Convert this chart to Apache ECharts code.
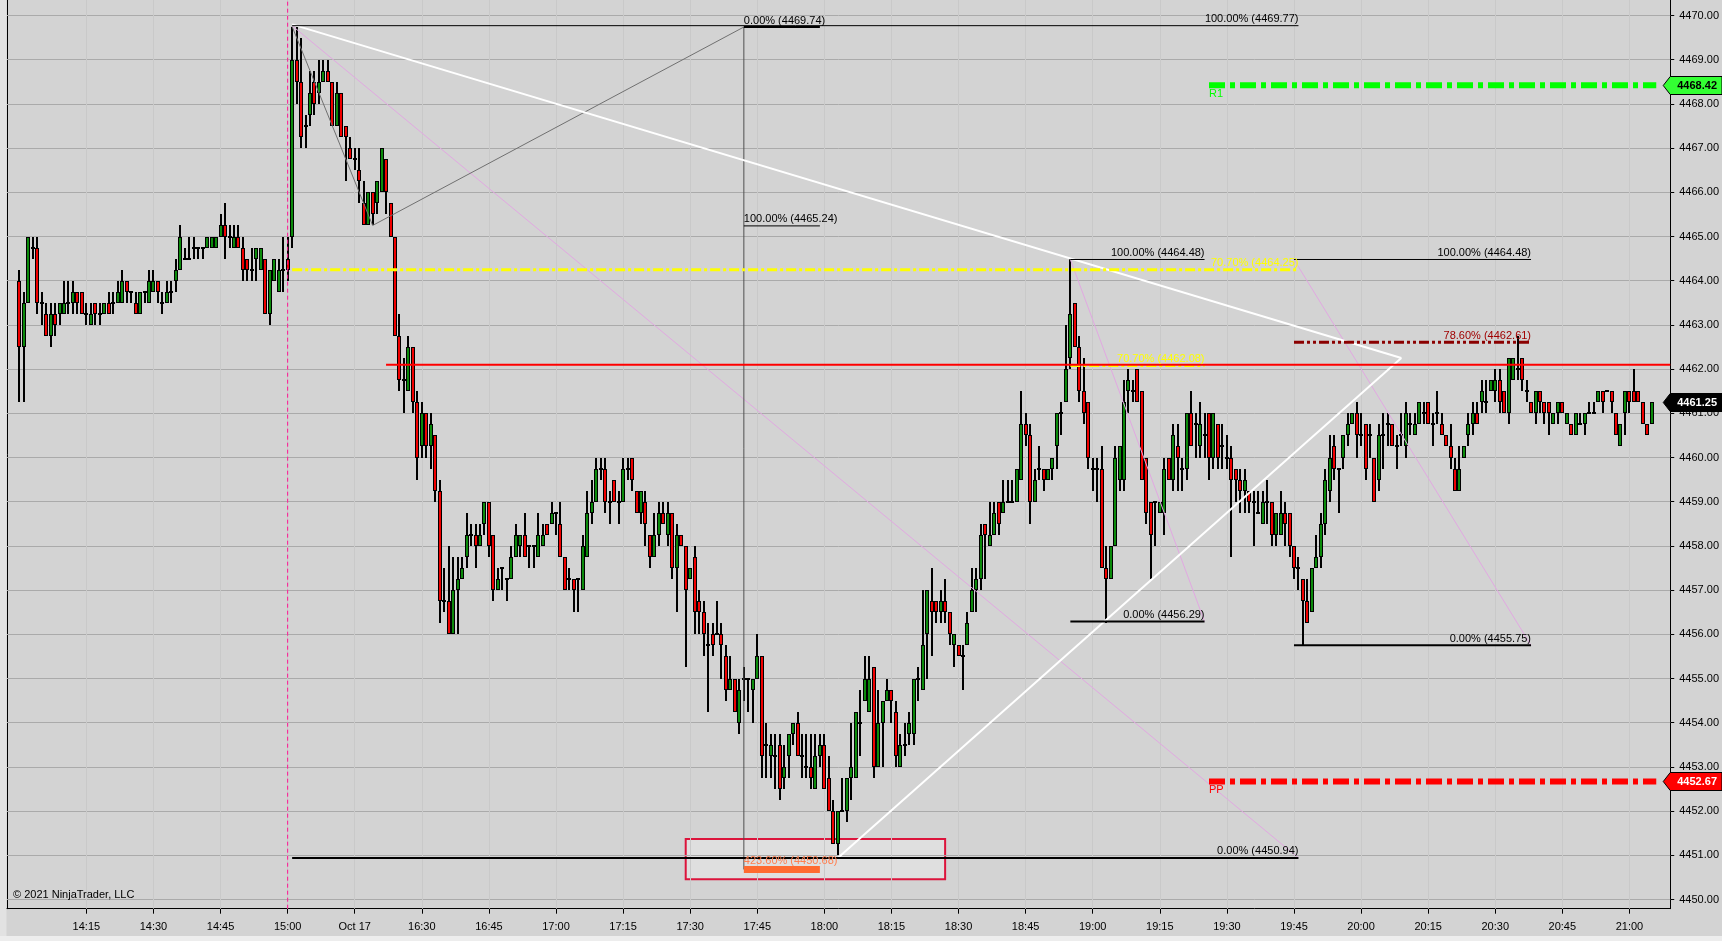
<!DOCTYPE html>
<html><head><meta charset="utf-8">
<script src="https://cdn.jsdelivr.net/npm/echarts@6/dist/echarts.min.js"></script>
<style>html,body{margin:0;padding:0;background:#d3d3d3;}#c{width:1722px;height:941px;}</style>
</head><body><div id="c"></div>
<script>
// ---------- DATA ----------
// Friday 1-minute bars 14:00 .. 15:00  [open, high, low, close]
const fridayBars = [
[4464,4464.25,4461.25,4462.5],[4462.5,4463.75,4461.25,4463.5],[4463.5,4465,4463.5,4465],[4464.75,4465,4464.5,4464.75],
[4464.75,4465,4463.25,4463.5],[4463.5,4463.75,4463,4463.5],[4463.25,4463.5,4462.75,4462.75],[4462.75,4463.5,4462.5,4463.25],
[4463.25,4463.5,4462.75,4463],[4463.25,4463.5,4463,4463.5],[4463.25,4464,4463.25,4463.5],[4463.5,4464,4463.25,4463.5],
[4463.5,4464,4463.25,4463.75],[4463.75,4463.75,4463.25,4463.5],[4463.75,4463.75,4463.25,4463.25],[4463.25,4463.5,4463,4463.25],
[4463,4463.5,4463,4463.25],[4463.5,4463.5,4463,4463.25],[4463.25,4463.5,4463,4463.25],[4463.25,4463.5,4463.25,4463.5],
[4463.5,4463.75,4463.25,4463.25],[4463.5,4463.75,4463.25,4463.5],[4463.5,4464,4463.5,4463.75],[4463.5,4464.25,4463.5,4464],
[4464,4464,4463.5,4463.75],[4463.75,4463.75,4463.5,4463.75],[4463.5,4463.75,4463.25,4463.25],[4463.25,4463.75,4463.25,4463.75],
[4463.75,4463.75,4463.5,4463.75],[4463.5,4464.25,4463.5,4464],[4463.75,4464.25,4463.75,4464],[4464,4464,4463.5,4463.75],
[4463.5,4463.75,4463.25,4463.5],[4463.5,4464,4463.5,4463.75],[4463.75,4464,4463.5,4463.75],[4464,4464.5,4463.75,4464.25],
[4464.25,4465.25,4464.25,4465],[4464.5,4464.75,4464.5,4464.5],[4464.5,4465,4464.5,4464.5],[4464.75,4465,4464.5,4464.75],
[4464.75,4464.75,4464.5,4464.75],[4464.75,4464.75,4464.5,4464.75],[4464.75,4465,4464.75,4465],[4464.75,4465,4464.75,4465],
[4464.75,4465,4464.75,4465],[4465,4465.5,4465,4465.25],[4465.25,4465.75,4464.5,4465],[4465,4465.25,4464.75,4465],
[4464.75,4465.25,4464.75,4465],[4465,4465.25,4464.75,4464.75],[4464.75,4465,4464,4464.25],[4464.5,4464.5,4464,4464.25],
[4464.25,4464.75,4464,4464.25],[4464.5,4464.75,4464,4464.75],[4464.25,4464.75,4464.25,4464.75],[4464.5,4464.5,4463.25,4463.25],
[4463.25,4464.25,4463,4464.25],[4464,4464.5,4464,4464.5],[4463.75,4464.5,4463.75,4464.25],[4464.25,4465,4463.75,4464.25],
[4464.5,4465,4464,4464.25]
];
// Sunday Oct 17 1-minute bars 16:01 .. 21:05  [open, high, low, close]
const sundayBars = [
[4465,4469.75,4464.75,4469],[4469,4469.75,4468,4468.5],[4468.5,4469.5,4467,4467.25],[4467.5,4467.75,4467,4467.5],
[4467.75,4468.75,4467.5,4468.25],[4468.5,4468.75,4467.75,4468],[4468.25,4469,4468,4468.5],[4468.5,4469,4468.5,4468.75],
[4468.75,4469,4468.5,4468.5],[4468.5,4468.5,4467.5,4467.5],[4467.5,4468.5,4467.5,4468.25],[4468.25,4468.25,4467.25,4467.25],
[4467.5,4467.5,4466.25,4467.25],[4467,4467.25,4466.75,4466.75],[4466.75,4467,4466.5,4466.75],[4466.5,4467,4465.75,4466.25],
[4465.75,4466.25,4465.25,4465.25],[4465.25,4466,4465.25,4466],[4466,4466,4465.25,4465.5],[4465.75,4466.25,4465.5,4466.25],
[4466,4467,4466,4467],[4466.75,4466.75,4465.5,4466],[4465.75,4465.75,4465,4465],[4465,4465,4462.75,4462.75],
[4462.75,4463.25,4461.5,4461.75],[4461.75,4462.25,4461,4461.75],[4461.5,4462.75,4461.5,4462.5],[4462.5,4462.5,4461,4461.25],
[4461.25,4461.5,4459.5,4460],[4460.25,4461.25,4460,4461],[4461,4461,4460,4460.25],[4460.25,4461,4459.75,4460.75],
[4460.5,4460.5,4459,4459.25],[4459.25,4459.5,4456.25,4456.75],[4456.75,4457.5,4456.5,4456.75],[4456.75,4458,4456,4456],
[4456,4457.75,4456,4457],[4457,4457.75,4456,4457.25],[4457.25,4457.75,4457.25,4457.5],[4457.75,4458.75,4457.5,4458.25],
[4458.25,4458.5,4458,4458.25],[4458.25,4458.5,4457.5,4458],[4458,4458.5,4458,4458.25],[4458.5,4459,4458.25,4459],
[4459,4459,4457.75,4458],[4458.25,4458.25,4456.75,4457],[4457,4457.5,4457,4457.25],[4457.5,4457.5,4457,4457.5],
[4457.25,4457.25,4456.75,4457.25],[4457.25,4458,4457.25,4457.75],[4457.75,4458.5,4457.75,4458.25],[4458,4458.25,4457.75,4458.25],
[4458.25,4458.75,4457.75,4457.75],[4458,4458,4457.5,4458],[4458,4458,4457.5,4458],[4457.75,4458.75,4457.75,4458.25],
[4458,4458.5,4458,4458.25],[4458.5,4458.5,4458.25,4458.25],[4458.5,4459,4458.5,4458.75],[4458.75,4458.75,4458.25,4458.75],
[4458.5,4459,4457.75,4457.75],[4457.75,4457.75,4457,4457],[4457.25,4457.5,4457,4457.25],[4457.25,4457.25,4456.5,4457],
[4457.25,4457.25,4456.5,4457.25],[4457,4458.25,4457,4458],[4457.75,4459.25,4457.75,4458.75],[4458.75,4459.5,4458.5,4459],
[4459,4460,4459,4459.75],[4459.75,4460,4459.5,4459.75],[4459.75,4460,4458.75,4459],[4459,4459.25,4458.5,4459],
[4459.5,4459.5,4459,4459],[4459,4459.25,4458.5,4459],[4459,4460,4459,4459.75],[4459.75,4460,4459.5,4459.75],
[4460,4460,4459.25,4459.5],[4459.25,4459.25,4458.75,4458.75],[4458.75,4459.25,4458.5,4459.25],[4459,4459.25,4458,4458.5],
[4458.25,4458.25,4457.5,4457.75],[4457.75,4458.75,4457.75,4458.25],[4458.25,4459,4458,4458.75],[4458.75,4459,4458.5,4458.5],
[4458.25,4459,4458,4458.75],[4458.75,4458.75,4457.25,4457.5],[4457.5,4458.5,4456.5,4458.25],[4458.25,4458.25,4458,4458],
[4458,4458,4455.25,4457],[4457.25,4457.5,4457.25,4457.5],[4457.75,4458,4456,4456.5],[4456.75,4457,4456,4456.5],
[4456.5,4456.75,4455.5,4456],[4455.75,4456.25,4454.25,4455.75],[4456,4456.25,4455.5,4455.75],[4456,4456.75,4456,4456],
[4456,4456.25,4455,4455.75],[4455.5,4455.75,4454.5,4454.75],[4454.75,4455.5,4454.75,4455],[4455,4455,4454.25,4454.25],
[4454,4455,4453.75,4454.75],[4455,4455.25,4454.5,4455],[4455,4455,4454.25,4455],[4454.75,4455,4454,4455],
[4455,4456,4455,4455.5],[4455.5,4455.5,4452.75,4453.25],[4453.5,4454,4452.75,4453.5],[4453.25,4453.75,4452.75,4453.5],
[4453.25,4453.75,4452.5,4453.25],[4453.5,4453.75,4452.25,4452.5],[4452.75,4453.5,4452.5,4453],[4453.25,4453.75,4452.75,4453.75],
[4453.75,4454,4453.5,4454],[4454,4454.25,4453.25,4453.25],[4453.25,4453.75,4452.75,4453.25],[4453,4453.75,4452.75,4453],
[4453,4453.75,4452.5,4452.75],[4452.5,4453.75,4452.5,4453.25],[4453.25,4453.75,4453,4453.5],[4453.5,4453.75,4452.5,4452.5],
[4452.75,4453.25,4452,4452],[4452,4452.25,4451.25,4451.25],[4451.25,4452,4451,4452],[4452,4452.75,4452,4452],
[4452,4452.75,4451.75,4452.75],[4452.75,4454,4452.25,4453],[4452.75,4454.25,4452.75,4454.25],[4454,4454.75,4453.25,4454],
[4454.5,4455.5,4454.5,4455],[4454.25,4455.5,4454.25,4455],[4455.25,4455.25,4452.75,4453],[4453,4454.75,4453,4454],
[4454,4454.5,4453,4454.5],[4454.5,4455,4454.5,4454.75],[4454.75,4454.75,4454,4454.5],[4454.25,4454.5,4453,4453.25],
[4453,4453.75,4453,4453.5],[4453.5,4454,4453.25,4453.5],[4453.75,4454.25,4453.5,4454],[4453.75,4455,4453.5,4455],
[4455,4455.25,4454.5,4455],[4454.75,4457,4454.75,4455.75],[4456,4457,4455,4457],[4456.75,4457.5,4455.5,4456.5],
[4456.75,4456.75,4456.25,4456.5],[4456.5,4457,4456.25,4456.75],[4456.75,4457.25,4456.25,4456.5],[4456.5,4456.5,4455.75,4456],
[4455.75,4456,4455.25,4456],[4455.75,4455.75,4455.5,4455.5],[4455.5,4455.75,4454.75,4455.5],[4455.75,4456.5,4455.75,4456.25],
[4456.5,4457.5,4456.5,4457],[4457,4457.5,4456.5,4457.25],[4457.25,4458.5,4457,4458.25],[4458.5,4458.5,4457.25,4458.25],
[4458,4459,4458,4458.25],[4458.25,4459,4458.25,4458.75],[4459,4459,4458.25,4458.5],[4458.75,4459.5,4458.75,4459],
[4459,4459.5,4459,4459],[4459,4459.5,4459,4459],[4459,4459.75,4459,4459.75],[4459.5,4461.5,4459.5,4460.75],
[4460.75,4461,4460.25,4460.5],[4460.5,4460.75,4458.5,4459],[4459,4459.75,4459,4459.5],[4459.75,4460.25,4459.5,4459.75],
[4459.75,4459.75,4459.25,4459.5],[4459.5,4459.75,4459.5,4459.75],[4459.75,4460,4459.5,4460],[4460.25,4461,4459.75,4461],
[4461,4461.25,4460.5,4461],[4461.25,4463,4461.25,4462],[4462.25,4464.5,4462,4463.25],[4463.5,4463.5,4462.5,4462.5],
[4462.5,4462.75,4461.25,4461.5],[4461.5,4462.25,4460.75,4461],[4461.25,4461.25,4459.75,4460],[4459.75,4460,4459.25,4459.75],
[4459.75,4460,4459,4459.75],[4459.75,4460.25,4457.5,4457.5],[4457.5,4458,4456.25,4457.25],[4457.25,4458,4457.25,4458],
[4458,4460.25,4458,4460],[4459.5,4460.25,4459.25,4460.25],[4459.5,4461.75,4459.25,4461.25],[4461.5,4462,4461,4461.75],
[4461.5,4461.75,4461.25,4461.5],[4462,4462,4461.25,4461.25],[4461.5,4461.5,4459.5,4459.5],[4460,4460,4458.5,4458.75],
[4459,4459,4457.25,4458.25],[4459,4459,4458,4459],[4458.75,4459,4458.75,4459],[4458.75,4460,4458.25,4459.75],
[4460,4460,4459.5,4459.5],[4459.5,4460.75,4459.25,4460.5],[4460.25,4460.75,4459.25,4460],[4459.75,4460,4459.25,4459.75],
[4459.75,4461,4459.5,4461],[4461,4461.5,4460.25,4460.25],[4460.75,4461,4460,4460.75],[4460.25,4461.25,4460,4460.75],
[4460.5,4461,4460,4460.5],[4461,4461,4459.5,4460],[4460,4461,4459.75,4461],[4460.75,4460.75,4459.75,4460],
[4460.25,4460.75,4459.75,4460.25],[4460,4460.5,4459.75,4460],[4460,4460.25,4457.75,4459.5],[4459.75,4459.75,4459,4459.5],
[4459.5,4459.75,4458.75,4459.25],[4459.25,4459.75,4458.75,4459.5],[4459.25,4459.25,4458.75,4459],[4459,4459.25,4458,4459],
[4458.75,4459.25,4458.75,4458.75],[4458.5,4459.25,4458.5,4459],[4459,4459.5,4458.5,4459],[4459,4459,4458,4458.25],
[4458.25,4458.75,4458,4458.75],[4458.25,4459.25,4458.25,4458.75],[4458.75,4459,4458,4458.5],[4458.75,4458.75,4457.75,4458],
[4458,4458,4457.25,4457.5],[4457.5,4457.75,4457,4457.5],[4457.25,4457.25,4455.75,4456.75],[4456.75,4457.25,4456.25,4456.25],
[4456.5,4457.5,4456.5,4457.5],[4457.5,4458.25,4457.5,4457.75],[4457.75,4458.75,4457.5,4458.5],[4458.5,4459.75,4458.25,4459.5],
[4459.25,4460.5,4459,4460],[4460.25,4460.5,4459.5,4459.75],[4459.75,4459.75,4458.75,4459.75],[4460,4460.5,4459.75,4460.5],
[4460.5,4461,4460.25,4460.75],[4460.75,4461,4460.75,4461],[4461,4461.25,4460,4460.5],[4460.5,4461,4460.25,4460.5],
[4460.75,4460.75,4459.5,4459.75],[4460.5,4460.75,4460,4460.5],[4460,4460,4459,4459],[4459.5,4460.75,4459.25,4460.5],
[4460.5,4461,4459.75,4460.5],[4460.75,4461,4460.25,4460.75],[4460.75,4460.75,4460.25,4460.25],[4460.25,4460.5,4459.75,4460.25],
[4460.5,4461,4460.25,4460.5],[4460.25,4461.25,4460,4461],[4460.75,4461,4460.5,4460.75],[4460.5,4461,4460.5,4460.75],
[4460.75,4461.25,4460.75,4461.25],[4461,4461.25,4460.75,4461],[4461.25,4461.25,4460.75,4460.75],[4460.75,4461,4460.25,4460.75],
[4461,4461.5,4460.75,4461],[4460.75,4461,4460.5,4460.5],[4460.5,4460.5,4460.25,4460.25],[4460.25,4460.75,4459.75,4460],
[4459.75,4460,4459.25,4459.25],[4459.25,4460.25,4459.25,4459.75],[4460,4460.25,4460,4460.25],[4460.5,4461,4460.25,4460.75],
[4460.75,4461.25,4460.5,4461],[4461,4461.25,4460.75,4460.75],[4461.25,4461.75,4461,4461.5],[4461.25,4461.75,4461,4461.25],
[4461.5,4461.75,4461.5,4461.75],[4461.5,4462,4461.25,4461.75],[4461.75,4462,4461,4461.25],[4461.5,4461.5,4461,4461],
[4461,4462.25,4460.75,4462.25],[4461.75,4462.25,4461.75,4462.25],[4462,4462.75,4461.75,4462],[4462.25,4462.25,4461.5,4461.75],
[4461.5,4461.75,4461.25,4461.5],[4461.25,4461.25,4461,4461],[4461,4461.5,4460.75,4461.5],[4461.5,4461.5,4461,4461.25],
[4461.25,4461.25,4460.75,4461],[4461.25,4461.25,4460.5,4461],[4460.75,4461,4460.75,4461],[4461,4461.25,4460.75,4461.25],
[4461.25,4461.25,4461,4461],[4460.75,4461,4460.75,4461],[4460.75,4460.75,4460.5,4460.5],[4460.5,4461,4460.5,4461],
[4460.75,4461,4460.75,4460.75],[4460.75,4461,4460.5,4461],[4461,4461.25,4461,4461],[4461,4461.25,4461,4461],
[4461.25,4461.5,4461.25,4461.5],[4461.5,4461.5,4461,4461.25],[4461.5,4461.5,4461.5,4461.5],[4461.5,4461.5,4461,4461.25],
[4461,4461,4460.5,4460.5],[4460.25,4460.75,4460.25,4460.75],[4461,4461.5,4460.5,4461.5],[4461.5,4461.5,4461,4461.25],
[4461.5,4462,4461.25,4461.25],[4461.5,4461.5,4461.25,4461.25],[4461.25,4461.25,4460.75,4460.75],[4460.75,4460.75,4460.5,4460.5],
[4460.75,4461.25,4460.75,4461.25]
];
const sundayFirstIndex = 61;                 // bar slot of 16:01 (right after the 15:00 close)
const tickIndices = [15,30,45,60,75,90,105,120,135,150,165,180,195,210,225,240,255,270,285,300,315,330,345,360];
const tickLabels = ['14:15','14:30','14:45','15:00','Oct 17','16:30','16:45','17:00','17:15','17:30','17:45','18:00',
  '18:15','18:30','18:45','19:00','19:15','19:30','19:45','20:00','20:15','20:30','20:45','21:00'];
const priceTicks = [4450,4451,4452,4453,4454,4455,4456,4457,4458,4459,4460,4461,4462,4463,4464,4465,4466,4467,4468,4469,4470];
const sessionBreakSlot = 60;
// Fibonacci retracements: [startSlot, endSlot, startPrice, endPrice], levels [percent, price]
const fibRetracements = [
  {anchor: [61, 286, 4469.77, 4450.94], levels: [[100, 4469.77], [70.7, 4464.25], [0, 4450.94]]},
  {anchor: [235, 265, 4464.48, 4456.29], levels: [[100, 4464.48], [70.7, 4462.08], [0, 4456.29]]},
  {anchor: [285, 338, 4464.48, 4455.75], levels: [[100, 4464.48], [78.6, 4462.61], [0, 4455.75]]}
];
const fibExtPoints = [[61, 4469.75], [79, 4465.25], [162, 4469.74]];
const fibExtEndSlot = 179;
const fibExtLevels = [[0, 4469.74], [100, 4465.24], [423.6, 4450.68]];
const trendLines = [[[61, 4469.8], [309, 4462.25]], [[183, 4450.94], [309, 4462.25]]];
const rayStart = [82, 4462.1];
const pivots = [['R1', 4468.42, 266, 366], ['PP', 4452.67, 266, 366]];
const zoneBox = [[149, 4451.37], [207, 4450.46]];
const lastPrice = 4461.25;

// ---------- CHART ----------
const FONT = '"Liberation Sans", Arial, sans-serif';
const UP = '#0b8a0b', DOWN = '#f00000';
const X_MIN = -2.75, X_MAX = 369.125, Y_MIN = 4449.792, Y_MAX = 4470.351;
const bars = [];
fridayBars.forEach((b, k) => bars.push([k, b[0], b[1], b[2], b[3]]));
sundayBars.forEach((b, k) => bars.push([sundayFirstIndex + k, b[0], b[1], b[2], b[3]]));

function candleItem(params, api) {
  const x = api.value(0), o = api.value(1), h = api.value(2), l = api.value(3), c = api.value(4);
  const pH = api.coord([x, h]), pL = api.coord([x, l]), pO = api.coord([x, o]), pC = api.coord([x, c]);
  const cx = Math.round(pH[0]);
  const yH = Math.round(pH[1]), yL = Math.round(pL[1]);
  const ch = [{type: 'rect', shape: {x: cx - 1, y: yH, width: 2, height: Math.max(1, yL - yH)}, style: {fill: '#000'}}];
  const top = Math.round(Math.min(pO[1], pC[1])), bot = Math.round(Math.max(pO[1], pC[1]));
  if (o === c) {
    ch.push({type: 'rect', shape: {x: cx - 2, y: top - 1, width: 4, height: 2}, style: {fill: '#000'}});
  } else {
    ch.push({type: 'rect', shape: {x: cx - 2, y: top, width: 4, height: bot - top}, style: {fill: '#000'}});
    if (bot - top > 2) ch.push({type: 'rect', shape: {x: cx - 1, y: top + 1, width: 2, height: bot - top - 2}, style: {fill: c > o ? UP : DOWN}});
  }
  return {type: 'group', children: ch};
}

const series = [];
function seg(points, color, width, type, z) {
  series.push({type: 'line', data: points, symbol: 'none', silent: true, animation: false, z: z || 10,
    lineStyle: {color: color, width: width, type: type || 'solid', cap: 'butt'}});
}
// gridlines
series.push({type: 'line', data: [], silent: true, z: 1, markLine: {silent: true, animation: false, symbol: ['none', 'none'],
  label: {show: false}, lineStyle: {color: '#aaaaaa', width: 1, type: 'solid'}, data: priceTicks.map(v => ({yAxis: v}))}});
series.push({type: 'line', data: [], silent: true, z: 1, markLine: {silent: true, animation: false, symbol: ['none', 'none'],
  label: {show: false}, lineStyle: {color: '#c9c9c9', width: 1, type: 'solid'}, data: tickIndices.map(v => ({xAxis: v}))}});
// rectangle zone
series.push({type: 'line', data: [], silent: true, z: 3, markArea: {silent: true, animation: false,
  itemStyle: {color: 'rgba(255,255,255,0.28)', borderColor: '#dc143c', borderWidth: 2},
  data: [[{coord: zoneBox[0]}, {coord: zoneBox[1]}]]}});
// candles
series.push({type: 'custom', data: bars, renderItem: candleItem, z: 5, silent: true, animation: false});

const texts = [];
const fmt = (p, v) => p.toFixed(2) + '% (' + v.toFixed(2) + ')';
// session break
seg([[sessionBreakSlot, Y_MIN], [sessionBreakSlot, Y_MAX]], '#ff1493', 1, [4, 3], 6);
// white trend lines
trendLines.forEach(t => seg(t, '#ffffff', 2, 'solid', 8));
// fib retracements
fibRetracements.forEach(f => {
  const [s, e, p0, p1] = f.anchor;
  seg([[s, p0], [e, p1]], '#e2a8e2', 1, 'solid', 7);
  f.levels.forEach(([pct, price]) => {
    let color = '#000', width = 1, type = 'solid', tcol = '#000';
    if (pct === 0) width = 2;
    if (pct === 70.7) { color = '#ffff00'; width = 3; type = [10, 3, 3, 3]; tcol = '#ffff00'; }
    if (pct === 78.6) { color = '#8b0000'; width = 3; type = [10, 3, 3, 3, 3, 3]; tcol = '#a00000'; }
    seg([[s, price], [e, price]], color, width, type, 9);
    texts.push({x: e, y: price, text: fmt(pct, price), color: tcol, align: 'right', va: 'bottom', dy: -1});
  });
});
// fib extension
seg(fibExtPoints, '#707070', 1, 'solid', 7);
const extX = fibExtPoints[2][0];
seg([[extX, fibExtLevels[0][1]], [extX, fibExtLevels[2][1]]], '#505050', 1, 'solid', 7);
fibExtLevels.forEach(([pct, price]) => {
  if (pct === 423.6) {
    seg([[extX, price], [fibExtEndSlot, price]], '#ff6a30', 7, 'solid', 9);
    texts.push({x: extX, y: price, text: fmt(pct, price), color: '#ff7f50', align: 'left', va: 'bottom', dy: -3});
  } else {
    seg([[extX, price], [fibExtEndSlot, price]], '#000', pct === 0 ? 2 : 1, 'solid', 9);
    texts.push({x: extX, y: price, text: fmt(pct, price), color: '#000', align: 'left', va: 'bottom', dy: -1});
  }
});
// red horizontal ray
seg([rayStart, [X_MAX, rayStart[1]]], '#ff0000', 2, 'solid', 9);
// pivots
pivots.forEach(([name, price, s, e]) => {
  const col = name === 'R1' ? '#00ff00' : '#ff0000';
  seg([[s, price], [e, price]], col, 6, [16, 5, 5, 5], 9);
  texts.push({x: s, y: price, text: name, color: col, align: 'left', va: 'top', dy: 3});
});

series.push({type: 'custom', silent: true, animation: false, z: 20, clip: false, data: texts.map(t => [t.x, t.y]),
  renderItem: (params, api) => {
    const t = texts[params.dataIndex];
    const p = api.coord([t.x, t.y]);
    return {type: 'text', x: p[0], y: p[1] + (t.dy || 0),
      style: {text: t.text, fill: t.color, font: '11px ' + FONT, align: t.align, verticalAlign: t.va,
        textAlign: t.align, textVerticalAlign: t.va}};
  }});

// price tags at the right axis
const priceTags = [[pivots[0][1], '#33ff33', '#000'], [pivots[1][1], '#ff0000', '#fff'], [lastPrice, '#000', '#fff']];
series.push({type: 'custom', silent: true, animation: false, z: 40, clip: false, data: priceTags.map(t => [0, t[0]]),
  renderItem: (params, api) => {
    const t = priceTags[params.dataIndex];
    const cs = params.coordSys;
    const right = cs.x + cs.width;
    const y = Math.round(api.coord([0, t[0]])[1]) + 0.5;
    const W = api.getWidth();
    return {type: 'group', children: [
      {type: 'polygon', shape: {points: [[right - 7, y], [right, y - 9], [W, y - 9], [W, y + 9], [right, y + 9]]},
        style: {fill: t[1], stroke: '#000', lineWidth: 1}},
      {type: 'text', x: right + 7, y: y, style: {text: t[0].toFixed(2), fill: t[2], font: 'bold 11px ' + FONT,
        align: 'left', verticalAlign: 'middle', textAlign: 'left', textVerticalAlign: 'middle'}}
    ]};
  }});

const chart = echarts.init(document.getElementById('c'), null, {renderer: 'canvas'});
chart.setOption({
  animation: false,
  backgroundColor: '#d3d3d3',
  grid: {left: 7, right: 49, top: 0, bottom: 32.3},
  xAxis: {type: 'value', min: X_MIN, max: X_MAX,
    axisLine: {show: true, onZero: false, lineStyle: {color: '#000', width: 1}},
    axisTick: {show: true, customValues: tickIndices, length: 5, lineStyle: {color: '#000'}},
    axisLabel: {show: true, customValues: tickIndices, margin: 13, color: '#000', fontSize: 11, fontFamily: FONT,
      formatter: v => { const k = tickIndices.indexOf(Math.round(v)); return k >= 0 ? tickLabels[k] : ''; }},
    splitLine: {show: false}},
  yAxis: [
    {type: 'value', position: 'right', min: Y_MIN, max: Y_MAX, scale: true,
      axisLine: {show: true, onZero: false, lineStyle: {color: '#000', width: 1}},
      axisTick: {show: true, customValues: priceTicks, length: 4, lineStyle: {color: '#000'}},
      axisLabel: {show: true, customValues: priceTicks, margin: 9, color: '#000', fontSize: 11, fontFamily: FONT,
        formatter: v => v.toFixed(2)},
      splitLine: {show: false}},
    {type: 'value', position: 'left', min: Y_MIN, max: Y_MAX, scale: true,
      axisLine: {show: true, onZero: false, lineStyle: {color: '#000', width: 1}},
      axisTick: {show: false}, axisLabel: {show: false}, splitLine: {show: false}}
  ],
  graphic: [
    {type: 'rect', left: 0, top: 0, shape: {width: 6.5, height: 941}, style: {fill: '#e2e2e2'}, z: -1, silent: true},
    {type: 'rect', left: 0, top: 936, shape: {width: 1722, height: 5}, style: {fill: '#ededed'}, z: -1, silent: true},
    {type: 'text', left: 13, top: 889, style: {text: '\u00a9 2021 NinjaTrader, LLC', fill: '#000', font: '11px ' + FONT}, z: 50, silent: true}
  ],
  series: series
});
</script></body></html>
